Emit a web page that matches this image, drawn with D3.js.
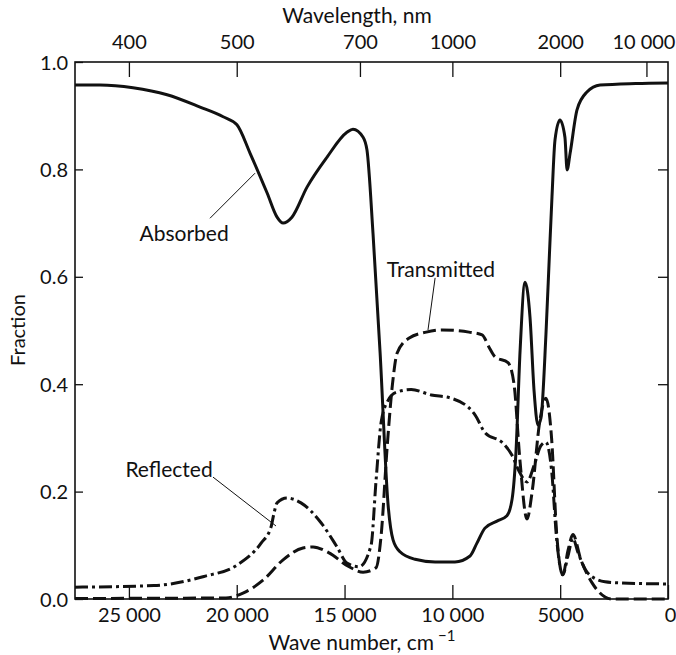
<!DOCTYPE html>
<html>
<head>
<meta charset="utf-8">
<script src="https://cdn.jsdelivr.net/npm/d3@7"></script>
<style>
  body { margin: 0; background: #fff; }
  svg text { font-family: Lato, "Open Sans", sans-serif; fill: #111; }
</style>
</head>
<body>
<div class="plot"></div>
<script>
// wave number (cm-1) vs fraction
var absorbed = [
  [27500,0.957],[26340,0.957],[24810,0.952],[23230,0.939],[21700,0.916],[20630,0.898],
  [19990,0.883],[19380,0.830],[18590,0.756],[18130,0.711],[17850,0.700],[17440,0.711],
  [16740,0.767],[15810,0.823],[14890,0.869],[14610,0.875],[14140,0.860],[13960,0.836],
  [13680,0.681],[13350,0.458],[12980,0.175],[12750,0.110],[12430,0.088],[11730,0.074],
  [10800,0.069],[9880,0.069],[9180,0.080],[8860,0.104],[8490,0.132],[7930,0.145],
  [7470,0.155],[7230,0.186],[7050,0.274],[6860,0.462],[6630,0.590],[6400,0.525],
  [6210,0.387],[6030,0.324],[5890,0.337],[5660,0.493],[5490,0.650],[5380,0.749],
  [5240,0.855],[5010,0.892],[4780,0.860],[4680,0.799],[4540,0.830],[4220,0.911],
  [3760,0.944],[3150,0.957],[1500,0.960],[0,0.961]
];
var transmitted = [
  [27500,0.001],[20500,0.002],[19710,0.011],[18780,0.035],[17850,0.073],[16930,0.095],
  [16460,0.097],[15720,0.086],[14790,0.060],[14140,0.050],[13540,0.058],[13300,0.120],
  [13030,0.280],[12750,0.410],[12560,0.458],[12000,0.486],[11210,0.497],[10470,0.501],
  [9230,0.497],[8620,0.492],[8300,0.469],[8020,0.451],[7420,0.440],[7140,0.400],
  [6870,0.260],[6540,0.149],[6300,0.200],[5950,0.330],[5660,0.374],[5400,0.300],
  [5160,0.120],[4880,0.045],[4640,0.090],[4410,0.120],[4040,0.073],[3520,0.030],
  [2600,0.000],[0,0.000]
];
var reflected = [
  [27500,0.022],[23840,0.025],[21520,0.042],[19990,0.063],[18870,0.104],[18410,0.134],
  [18270,0.160],[18130,0.179],[17670,0.188],[17020,0.179],[16090,0.142],[15350,0.097],
  [14890,0.067],[14330,0.060],[13770,0.100],[13540,0.220],[13300,0.330],[12980,0.370],
  [12610,0.385],[11910,0.390],[10980,0.380],[10060,0.374],[8950,0.343],[8490,0.310],
  [7650,0.290],[7240,0.268],[6870,0.235],[6540,0.218],[6200,0.250],[5900,0.285],
  [5660,0.292],[5400,0.240],[5160,0.110],[4880,0.045],[4640,0.080],[4410,0.113],
  [4170,0.086],[3710,0.048],[2920,0.032],[2270,0.030],[0,0.028]
];
var bottomTicks = [25000, 20000, 15000, 10000, 5000, 0];
var topTicks = [400, 500, 700, 1000, 2000, 10000];   // wavelength, nm
var yTicks = [0, 0.2, 0.4, 0.6, 0.8, 1.0];

var W = 676, H = 655;
var m = {t:62, r:8, b:56, l:75};
var w = W - m.l - m.r, h = H - m.t - m.b;

var svg = d3.select('.plot').append('svg')
  .attr('width', W).attr('height', H);
var g = svg.append('g').attr('transform', 'translate(' + m.l + ',' + m.t + ')');

var x = d3.scaleLinear().domain([27500, 0]).range([0, w]);
var y = d3.scaleLinear().domain([0, 1]).range([h, 0]);

function fmt(v){
  if (v >= 10000) { var s = String(v); return s.slice(0, s.length-3) + '\u2005' + s.slice(-3); }
  return String(v);
}

// frame
g.append('rect').attr('width', w).attr('height', h)
  .style('fill', 'none').style('stroke', '#111').style('stroke-width', 1.6);

// bottom ticks (inward)
var bx = d3.axisBottom(x).tickValues(bottomTicks).tickSize(-14).tickPadding(9).tickFormat(fmt);
var bAxis = g.append('g').attr('transform', 'translate(0,' + h + ')').call(bx);
// top ticks: wavelength in nm -> wave number 1e7/nm
var tx = d3.axisTop(x).tickValues(topTicks.map(function(d){ return 1e7 / d; }))
  .tickSize(-15).tickPadding(13)
  .tickFormat(function(d){ return fmt(Math.round(1e7 / d)); });
var tAxis = g.append('g').call(tx);
var ly = d3.axisLeft(y).tickValues(yTicks).tickSize(-8).tickPadding(7).tickFormat(d3.format('.1f'));
var lAxis = g.append('g').call(ly);
var ry = d3.axisRight(y).tickValues(yTicks.slice(1, 5)).tickSize(-10).tickFormat('');
var rAxis = g.append('g').attr('transform', 'translate(' + w + ',0)').call(ry);

[bAxis, tAxis, lAxis, rAxis].forEach(function(a){
  a.select('.domain').remove();
  a.selectAll('line').style('stroke', '#111').style('stroke-width', 1.3);
  a.selectAll('text').style('font-size', '20px').style('font-family', 'Lato, sans-serif').style('fill', '#111');
});
lAxis.selectAll('text').attr('dy', '0.35em');
// keep the last wavelength label inside the page
tAxis.selectAll('.tick:last-of-type text').attr('dx', '-3');
bAxis.selectAll('.tick:last-of-type text').attr('dx', '2');

// curves
var line = d3.line()
  .x(function(d){ return x(d[0]); })
  .y(function(d){ return y(d[1]); })
  .curve(d3.curveMonotoneX);

var series = [
  {data: reflected, dash: '13,4,3,4'},
  {data: transmitted, dash: '13,5'},
  {data: absorbed, dash: null}
];
series.forEach(function(s){
  g.append('path').datum(s.data)
    .attr('d', line)
    .style('fill', 'none').style('stroke', '#111').style('stroke-width', 3)
    .style('stroke-linejoin', 'round')
    .style('stroke-dasharray', s.dash);
});

// labels with leader lines (positions in data units)
var labels = [
  {text: 'Absorbed', tx: 22440, ty: 0.680, from: [21240, 0.709], to: [19150, 0.793]},
  {text: 'Transmitted', tx: 10530, ty: 0.613, from: [10800, 0.598], to: [11130, 0.501]},
  {text: 'Reflected', tx: 23140, ty: 0.240, from: [21100, 0.227], to: [18180, 0.136]}
];
labels.forEach(function(l){
  g.append('line')
    .attr('x1', x(l.from[0])).attr('y1', y(l.from[1]))
    .attr('x2', x(l.to[0])).attr('y2', y(l.to[1]))
    .style('stroke', '#111').style('stroke-width', 1);
  g.append('text').attr('x', x(l.tx)).attr('y', y(l.ty))
    .attr('text-anchor', 'middle').attr('dy', '0.35em')
    .style('font-size', '21px').text(l.text);
});

// axis titles
svg.append('text').attr('x', 357).attr('y', 23).attr('text-anchor', 'middle')
  .style('font-size', '21px').text('Wavelength, nm');
var xt = svg.append('text').attr('x', 362).attr('y', 650).attr('text-anchor', 'middle')
  .style('font-size', '21px');
xt.append('tspan').text('Wave number, cm');
xt.append('tspan').attr('dy', '-9').attr('dx', '4').style('font-size', '15px').text('\u22121');
svg.append('text').attr('transform', 'translate(25,330) rotate(-90)')
  .attr('text-anchor', 'middle').style('font-size', '20px').text('Fraction');
</script>
</body>
</html>
